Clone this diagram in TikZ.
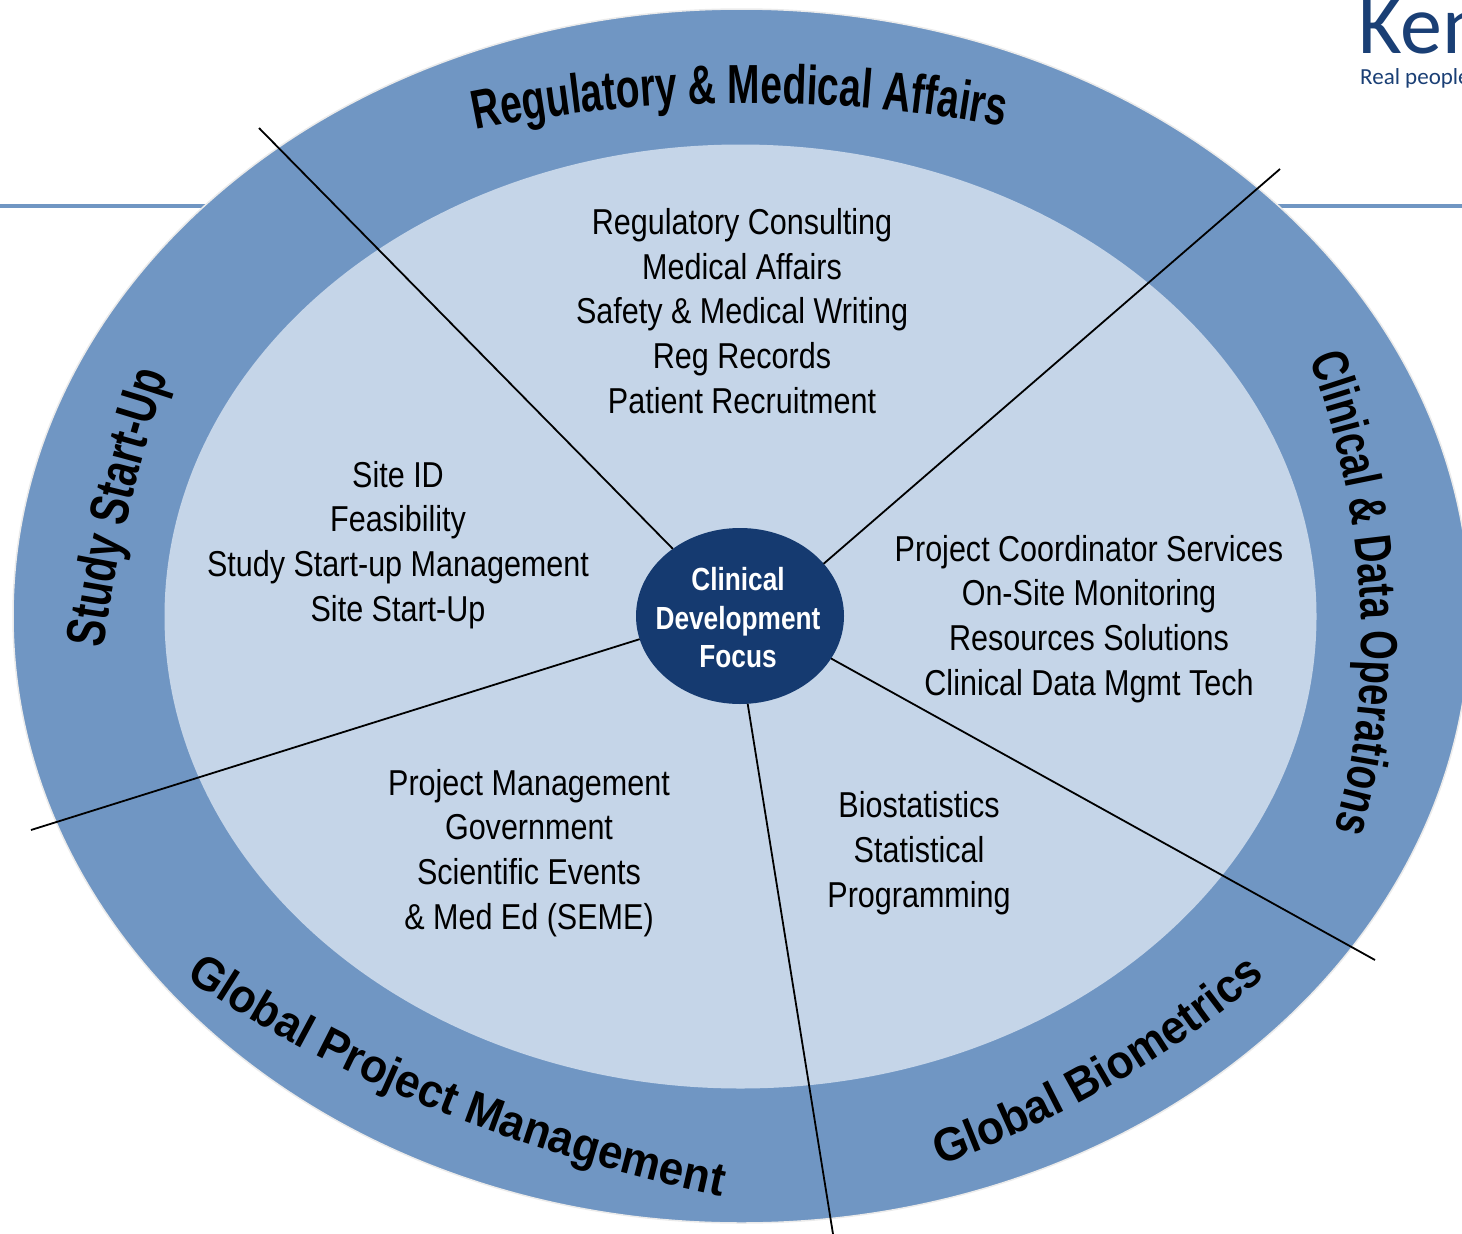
\documentclass[tikz,border=0pt]{standalone}
\usepackage{fontspec}
\usetikzlibrary{shapes.geometric,decorations.text}
\setmainfont{Liberation Sans}
\newfontfamily\bodyfam[FakeStretch=0.848]{Liberation Sans}
\newfontfamily\focusfam[FakeStretch=0.82]{Liberation Sans}
\newfontfamily\regfam[FakeStretch=0.71]{Liberation Sans}
\newfontfamily\studyfam[FakeStretch=0.73]{Liberation Sans}
\newfontfamily\clinfam[FakeStretch=0.735]{Liberation Sans}
\newfontfamily\widerfam[FakeStretch=0.94]{Liberation Sans}
\newfontfamily\logofam{Carlito}
\definecolor{ringblue}{HTML}{7096C3}
\definecolor{innerblue}{HTML}{C5D5E8}
\definecolor{navy}{HTML}{153A70}
\definecolor{logoblue}{HTML}{1A3F75}
\newcommand{\hdrReg}{\regfam\bfseries\fontsize{55}{55}\selectfont}
\newcommand{\hdrStudy}{\studyfam\bfseries\fontsize{55}{55}\selectfont}
\newcommand{\hdrClin}{\clinfam\bfseries\fontsize{52}{52}\selectfont}
\newcommand{\hdrB}{\widerfam\bfseries\fontsize{47}{47}\selectfont}
\tikzset{
  ringtext/.style={decorate,decoration={text along path,text align=center,text={#1}}},
  bodytext/.style={align=center,inner sep=0pt,text=black,font=\bodyfam\fontsize{36}{44.7}\selectfont},
  spoke/.style={draw=black,line width=1.8pt},
  rule/.style={draw=ringblue,line width=4pt}
}
\begin{document}
\begin{tikzpicture}[x=1pt,y=-1pt]
\useasboundingbox (0,0) rectangle (1462,1234);
\coordinate (ruleLa) at (0,206);
\coordinate (ruleLb) at (210,206);
\coordinate (ruleRa) at (1270,206);
\coordinate (ruleRb) at (1462,206);
\draw[rule] (ruleLa) -- (ruleLb);
\draw[rule] (ruleRa) -- (ruleRb);
\node[ellipse,draw=black!8,line width=1.5pt,fill=ringblue,minimum width=1457pt,minimum height=1214pt,inner sep=0pt,outer sep=0pt] (outer) at (741.5,616) {};
\node[ellipse,fill=innerblue,minimum width=1152pt,minimum height=944pt,inner sep=0pt,outer sep=0pt] (inner) at (740.5,616.5) {};
\node[ellipse,fill=navy,minimum width=208pt,minimum height=176pt,inner sep=0pt,outer sep=0pt] (focus) at (740,616) {};
\node[align=center,inner sep=0pt,text=white,font=\focusfam\bfseries\fontsize{32}{38.5}\selectfont] (focusText) at (738,618) {Clinical\\Development\\Focus};
\coordinate (endA) at (259,128);
\coordinate (endB) at (1280,169);
\coordinate (endC) at (31,830);
\coordinate (endD) at (1375,960);
\coordinate (endE) at (833,1234);
\draw[spoke] (focus.135.8) -- (endA);
\draw[spoke] (focus.32.9) -- (endB);
\draw[spoke] (focus.193.5) -- (endC);
\draw[spoke] (focus.-25.6) -- (endD);
\draw[spoke] (focus.-85.5) -- (endE);
\node[bodytext] (tReg) at (742,311) {Regulatory Consulting\\Medical Affairs\\Safety \& Medical Writing\\Reg Records\\Patient Recruitment};
\node[bodytext] (tSite) at (398,545) {Site ID\\Feasibility\\Study Start-up Management\\Site Start-Up};
\node[bodytext] (tClin) at (1089,619) {Project Coordinator Services\\On-Site Monitoring\\Resources Solutions\\Clinical Data Mgmt Tech};
\node[bodytext] (tBio) at (919,853) {Biostatistics\\Statistical\\Programming};
\node[bodytext] (tPM) at (529,853) {Project Management\\Government\\Scientific Events\\\& Med Ed (SEME)};
\path[ringtext={|\hdrReg|Regulatory {\&} Medical Affairs}] (440,138) .. controls (630,92) and (850,92) .. (1040,134);
\path[ringtext={|\hdrClin|Clinical {\&} Data Operations}] (1296,324) .. controls (1364,484) and (1389,694) .. (1322,864);
\path[ringtext={|\hdrB|Global Biometrics}] (921,1172) .. controls (1046,1129) and (1166,1064) .. (1281,964);
\path[ringtext={|\hdrB|Global Project Management}] (170,967) .. controls (330,1080) and (520,1155) .. (740,1200);
\path[ringtext={|\hdrStudy|Study Start-Up}] (100,680) .. controls (111,580) and (134,470) .. (178,345);
\node[anchor=base west,inner sep=0pt,text=logoblue,font=\logofam\fontsize{84}{84}\selectfont] (logoKen) at (1358,53) {Ken};
\node[anchor=base west,inner sep=0pt,text=logoblue,font=\logofam\fontsize{23}{23}\selectfont] (logoReal) at (1360,84) {Real people};
\end{tikzpicture}
\end{document}
